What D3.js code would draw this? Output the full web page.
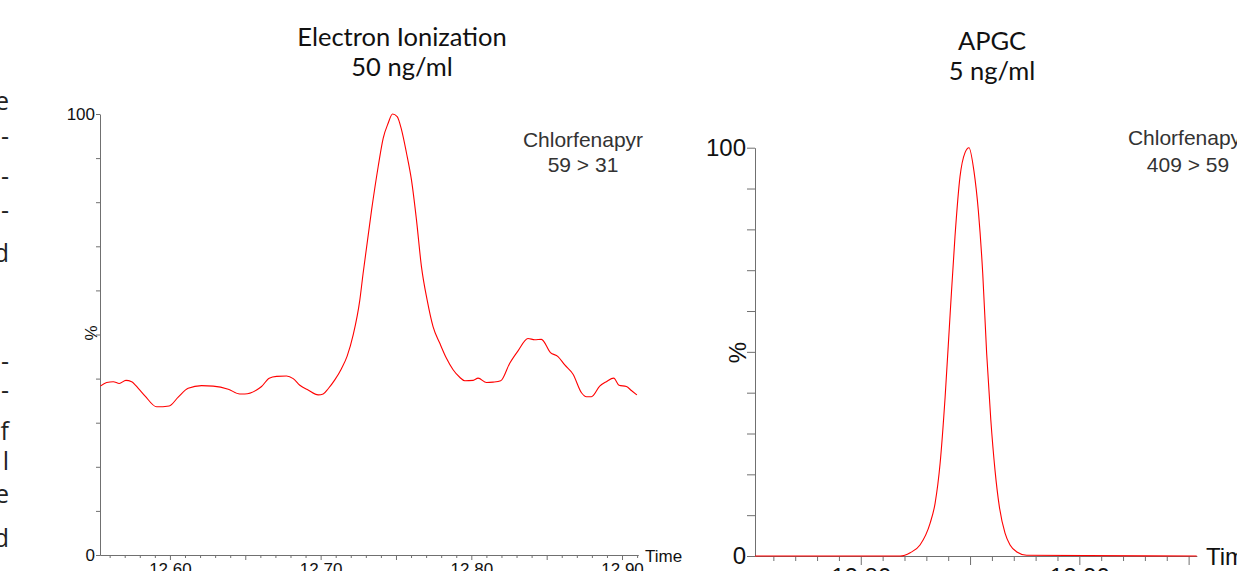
<!DOCTYPE html>
<meta charset="utf-8">
<style>
body { margin: 0; background: #fff; }
svg { display: block; }
.trace { fill: none; stroke: #ff0000; stroke-width: 1.1px; }
.axis text { font-family: "Liberation Sans", Arial, sans-serif; fill: #111; }
.axis path, .axis line { stroke: #707070; }
.note { font-family: "Liberation Sans", Arial, sans-serif; fill: #333; }
.title { font-family: Lato, "Open Sans", sans-serif; fill: #111; }
.frag { font-family: "Open Sans", sans-serif; fill: #222; }
</style>
<svg width="1237" height="571"></svg>
<script src="https://d3js.org/d3.v7.min.js"></script>
<script>
// ---- data ----
// EI chromatogram, 59 > 31 (time in min, signal in %)
var eiTime = [12.5538, 12.5580, 12.5624, 12.5664, 12.5708, 12.5746, 12.5790, 12.5834, 12.5912, 12.5995,
  12.6055, 12.6121, 12.6210, 12.6287, 12.6387, 12.6464, 12.6497, 12.6575, 12.6608, 12.6659,
  12.6708, 12.6774, 12.6818, 12.6862, 12.6917, 12.6984, 12.7017, 12.7050, 12.7094, 12.7139,
  12.7176, 12.7216, 12.7260, 12.7282, 12.7338, 12.7382, 12.7415, 12.7448, 12.7477, 12.7508,
  12.7537, 12.7570, 12.7603, 12.7636, 12.7669, 12.7707, 12.7746, 12.7791, 12.7835, 12.7879,
  12.7923, 12.7957, 12.8012, 12.8045, 12.8101, 12.8144, 12.8195, 12.8255, 12.8310, 12.8376,
  12.8421, 12.8465, 12.8525, 12.8575, 12.8620, 12.8675, 12.8731, 12.8764, 12.8797, 12.8852,
  12.8896, 12.8945, 12.8980, 12.9029, 12.9062, 12.9099];
var eiSignal = [38.3, 39.1, 39.3, 38.9, 39.6, 39.3, 37.8, 36.1, 33.6, 33.8,
  35.8, 37.8, 38.4, 38.3, 37.6, 36.5, 36.5, 37.4, 38.2, 40.1,
  40.5, 40.6, 40.0, 38.5, 37.4, 36.3, 36.5, 37.7, 39.7, 42.3,
  45.1, 49.9, 57.8, 63.9, 78.2, 88.1, 94.5, 97.9, 100, 99.4,
  96.4, 91.1, 85.0, 76.0, 65.4, 57.8, 51.8, 48.0, 44.6, 42.0,
  40.3, 39.5, 39.6, 40.1, 39.1, 39.2, 39.5, 43.5, 46.3, 49.1,
  48.8, 48.9, 45.9, 45.0, 43.1, 41.0, 36.8, 35.9, 35.9, 38.3,
  39.3, 40.1, 38.5, 38.2, 37.3, 36.3];

// APGC chromatogram, 409 > 59
var apgcTime = [12.7516, 12.8180, 12.8226, 12.8271, 12.8317, 12.8340, 12.8363, 12.8386, 12.8409, 12.8431,
  12.8454, 12.8477, 12.8495, 12.8518, 12.8538, 12.8558, 12.8576, 12.8595, 12.8614, 12.8634,
  12.8660, 12.8683, 12.8714, 12.8759, 12.9537];
var apgcSignal = [0, 0, 0.8, 2.7, 8.0, 12.9, 22.7, 39.0, 59.4, 78.2,
  92.9, 98.8, 100, 94.2, 84.5, 69.2, 49.6, 33.3, 21.1, 12.1,
  5.6, 2.7, 1.0, 0.2, 0];

var eiTitle = ["Electron Ionization", "50 ng/ml"];
var apgcTitle = ["APGC", "5 ng/ml"];
var eiNote = ["Chlorfenapyr", "59 > 31"];
var apgcNote = ["Chlorfenapyr", "409 > 59"];
var eiTickLabels = [12.60, 12.70, 12.80, 12.90];
var apgcTickLabels = [12.80, 12.90];
var yTickLabels = [0, 100];

// cut-off words of the neighbouring text column
var fragText = ["e", "-", "-", "-", "d", "-", "-", "f", "l", "e", "d"];
var fragY = [110, 145, 185, 219, 262, 370, 399, 440, 470, 503, 547];

var svg = d3.select("svg");

var panels = [
  {time: eiTime, signal: eiSignal, title: eiTitle, note: eiNote, labels: eiTickLabels,
   xDom: [12.5536, 12.9106], xR: [100, 638], yR: [555, 114],
   fs: 17, ytick: 4, xminor: 3, xmajor: 5, timeX: 645, timeY: 561.5, timeTxt: "Time",
   titleX: 402, titleY: [46, 76], noteX: 583, noteY: [147, 172], pctX: 91, pctY: 333},
  {time: apgcTime, signal: apgcSignal, title: apgcTitle, note: apgcNote, labels: apgcTickLabels,
   xDom: [12.7516, 12.9537], xR: [755, 1196.7], yR: [556, 147.7],
   fs: 24, ytick: 8, xminor: 5, xmajor: 9, timeX: 1206, timeY: 565, timeTxt: "Time",
   titleX: 992, titleY: [50, 80], noteX: 1188, noteY: [145, 171.5], pctX: 737.5, pctY: 352.5}
];

panels.forEach(function(p) {
  var x = d3.scaleLinear().domain(p.xDom).range(p.xR);
  var y = d3.scaleLinear().domain([0, 100]).range(p.yR);
  var g = svg.append("g");

  // minor ticks every 0.01 min, longer every 0.05
  var all = d3.range(Math.ceil(p.xDom[0] * 100), Math.floor(p.xDom[1] * 100) + 1).map(function(d) { return d / 100; });
  var minor = all.filter(function(d) { return Math.round(d * 100) % 5 != 0; });
  var major = all.filter(function(d) { return Math.round(d * 100) % 5 == 0; });

  g.append("g").attr("class", "axis")
    .attr("transform", "translate(0," + p.yR[0] + ")")
    .call(d3.axisBottom(x).tickValues(minor).tickSize(p.xminor).tickSizeOuter(0).tickFormat(""));
  g.append("g").attr("class", "axis")
    .attr("transform", "translate(0," + p.yR[0] + ")")
    .call(d3.axisBottom(x).tickValues(major).tickSize(p.xmajor).tickSizeOuter(0).tickPadding(3)
      .tickFormat(function(d) {
        return p.labels.some(function(l) { return Math.abs(l - d) < 1e-6; }) ? d3.format(".2f")(d) : "";
      }))
    .selectAll("text").style("font-size", p.fs + "px");

  g.append("g").attr("class", "axis")
    .attr("transform", "translate(" + p.xR[0] + ",0)")
    .call(d3.axisLeft(y).tickValues(d3.range(0, 101, 10)).tickSize(p.ytick).tickSizeOuter(0).tickPadding(1)
      .tickFormat(function(d) { return yTickLabels.indexOf(d) >= 0 ? d : ""; }))
    .selectAll("text").style("font-size", p.fs + "px");

  g.append("text").attr("class", "note")
    .attr("transform", "translate(" + p.pctX + "," + p.pctY + ") rotate(-90)")
    .attr("text-anchor", "middle").attr("dy", "0.35em")
    .style("font-size", p.fs + "px").style("fill", "#111").text("%");

  g.append("text").attr("class", "note")
    .attr("x", p.timeX).attr("y", p.timeY)
    .style("font-size", p.fs + "px").style("fill", "#111").text(p.timeTxt);

  var line = d3.line()
    .x(function(d, i) { return x(p.time[i]); })
    .y(function(d) { return y(d); })
    .curve(d3.curveMonotoneX);
  g.append("path").attr("class", "trace").attr("d", line(p.signal));

  p.note.forEach(function(t, i) {
    g.append("text").attr("class", "note").attr("x", p.noteX).attr("y", p.noteY[i])
      .attr("text-anchor", "middle").style("font-size", "21px").text(t);
  });
  p.title.forEach(function(t, i) {
    g.append("text").attr("class", "title").attr("x", p.titleX).attr("y", p.titleY[i])
      .attr("text-anchor", "middle").style("font-size", "25.5px").text(t);
  });
});

svg.append("g").selectAll("text").data(fragText).enter().append("text")
  .attr("class", "frag")
  .attr("x", 9).attr("y", function(d, i) { return fragY[i]; })
  .attr("text-anchor", "end").style("font-size", "25px")
  .text(function(d) { return d; });
</script>
